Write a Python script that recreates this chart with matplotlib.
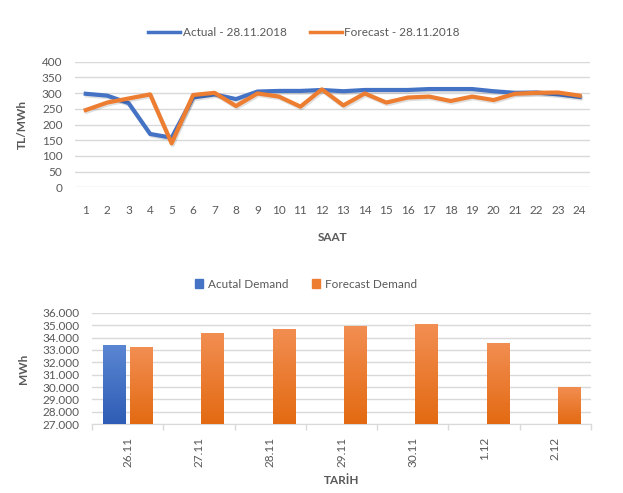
import numpy as np
import matplotlib
matplotlib.use('Agg')
import matplotlib.pyplot as plt
import matplotlib.patheffects as pe
from matplotlib.ticker import FuncFormatter, FixedLocator
from matplotlib.patches import Patch
from matplotlib.lines import Line2D

# hourly prices, 28.11.2018
hours = list(range(1, 25))
actual = [298, 292, 268, 170, 158, 286, 296, 281, 305, 307, 307, 310,
          306, 310, 310, 310, 313, 313, 313, 306, 301, 302, 296, 288]
forecast = [246, 270, 283, 296, 140, 294, 301, 259, 299, 289, 257, 312,
            261, 299, 270, 286, 289, 275, 289, 278, 298, 301, 302, 292]

# daily demand
days = ['26.11', '27.11', '28.11', '29.11', '30.11', '1.12', '2.12']
actual_demand = [33390, None, None, None, None, None, None]
forecast_demand = [33210, 34370, 34680, 34950, 35060, 33580, 29990]

BLUE = '#4472C4'
ORANGE = '#ED7D31'
TXT = '#595959'
GRID = '#d9d9d9'
FS = 8.5

plt.rcParams['font.family'] = ['Lato', 'DejaVu Sans']
plt.rcParams['font.size'] = FS

fig = plt.figure(figsize=(6.23, 4.93), dpi=100)

# ---- top: line chart
ax1 = fig.add_axes([0.1204, 0.620, 0.827, 0.2548])
shadow = [pe.SimpleLineShadow(offset=(0.8, -1.2), alpha=0.12, shadow_color='k'), pe.Normal()]
ax1.plot(hours, actual, color=BLUE, lw=3, solid_joinstyle='round', path_effects=shadow)
ax1.plot(hours, forecast, color=ORANGE, lw=3, solid_joinstyle='round', path_effects=shadow)
ax1.set_xlim(0.5, 24.5)
ax1.set_ylim(0, 400)
ax1.set_yticks(range(0, 401, 50))
ax1.set_xticks(hours)
ax1.grid(axis='y', color=GRID, lw=1)
ax1.set_axisbelow(True)
for s in ax1.spines.values():
    s.set_visible(False)
ax1.tick_params(axis='both', length=0, colors=TXT, labelsize=FS)
ax1.tick_params(axis='x', pad=13)
ax1.tick_params(axis='y', pad=9)
ax1.set_xlabel('SAAT', color=TXT, fontweight='bold', fontsize=FS, labelpad=11)
ax1.set_ylabel('TL/MWh', color=TXT, fontweight='bold', fontsize=FS, labelpad=10)

fig.legend(handles=[Line2D([], [], color=BLUE, lw=2.5), Line2D([], [], color=ORANGE, lw=2.5)],
           labels=['Actual - 28.11.2018', 'Forecast - 28.11.2018'],
           loc='center', bbox_to_anchor=(304 / 623, 1 - 33 / 493), ncol=2, frameon=False,
           handlelength=2.7, handletextpad=0.2, columnspacing=2.0, labelcolor=TXT, fontsize=FS)

# ---- bottom: bar chart
ax2 = fig.add_axes([0.1477, 0.1394, 0.801, 0.2263])
x = np.arange(len(days))
w = 0.31
off = 0.19
ymin = 27000


def grad_bar(ax, xc, h, top, bottom):
    c1 = np.array(matplotlib.colors.to_rgb(top))
    c2 = np.array(matplotlib.colors.to_rgb(bottom))
    t = np.linspace(0, 1, 64)[:, None]
    img = (c1 * (1 - t) + c2 * t)[:, None, :]
    bar = ax.bar(xc, h - ymin, w, bottom=ymin, color=bottom, zorder=2)[0]
    im = ax.imshow(img, extent=[xc - w / 2, xc + w / 2, ymin, h], aspect='auto', zorder=3)
    im.set_clip_path(bar)


for i in range(len(days)):
    if actual_demand[i] is not None:
        grad_bar(ax2, x[i] - off, actual_demand[i], '#5B86D3', '#2F5DB5')
    grad_bar(ax2, x[i] + off, forecast_demand[i], '#F28E52', '#E36A12')

ax2.set_xlim(-0.5, len(days) - 0.5)
ax2.set_ylim(27000, 36000)
ax2.set_yticks(range(27000, 36001, 1000))
ax2.yaxis.set_major_formatter(FuncFormatter(lambda v, p: f'{int(v):,}'.replace(',', '.')))
ax2.set_xticks(x)
ax2.set_xticklabels(days, rotation=90, va='top', fontsize=8.5)
ax2.xaxis.set_minor_locator(FixedLocator(np.arange(-0.5, len(days), 1)))
ax2.grid(axis='y', color=GRID, lw=1)
ax2.set_axisbelow(True)
for k in ['top', 'right', 'left']:
    ax2.spines[k].set_visible(False)
ax2.spines['bottom'].set_color(GRID)
ax2.tick_params(axis='both', which='major', length=0, colors=TXT)
ax2.tick_params(axis='x', which='major', pad=9)
ax2.tick_params(axis='y', pad=9)
ax2.tick_params(axis='x', which='minor', length=4, color=GRID, width=1)
ax2.set_xlabel('TARİH', color=TXT, fontweight='bold', fontsize=FS, labelpad=6)
ax2.set_ylabel('MWh', color=TXT, fontweight='bold', fontsize=FS, labelpad=10)

fig.legend(handles=[Patch(color=BLUE), Patch(color=ORANGE)],
           labels=['Acutal Demand', 'Forecast Demand'],
           loc='center', bbox_to_anchor=(306 / 623, 1 - 284 / 493), ncol=2, frameon=False,
           handlelength=0.7, handleheight=0.7, handletextpad=0.4, columnspacing=2.0,
           labelcolor=TXT, fontsize=FS)

fig.savefig('out.png', dpi=100)
